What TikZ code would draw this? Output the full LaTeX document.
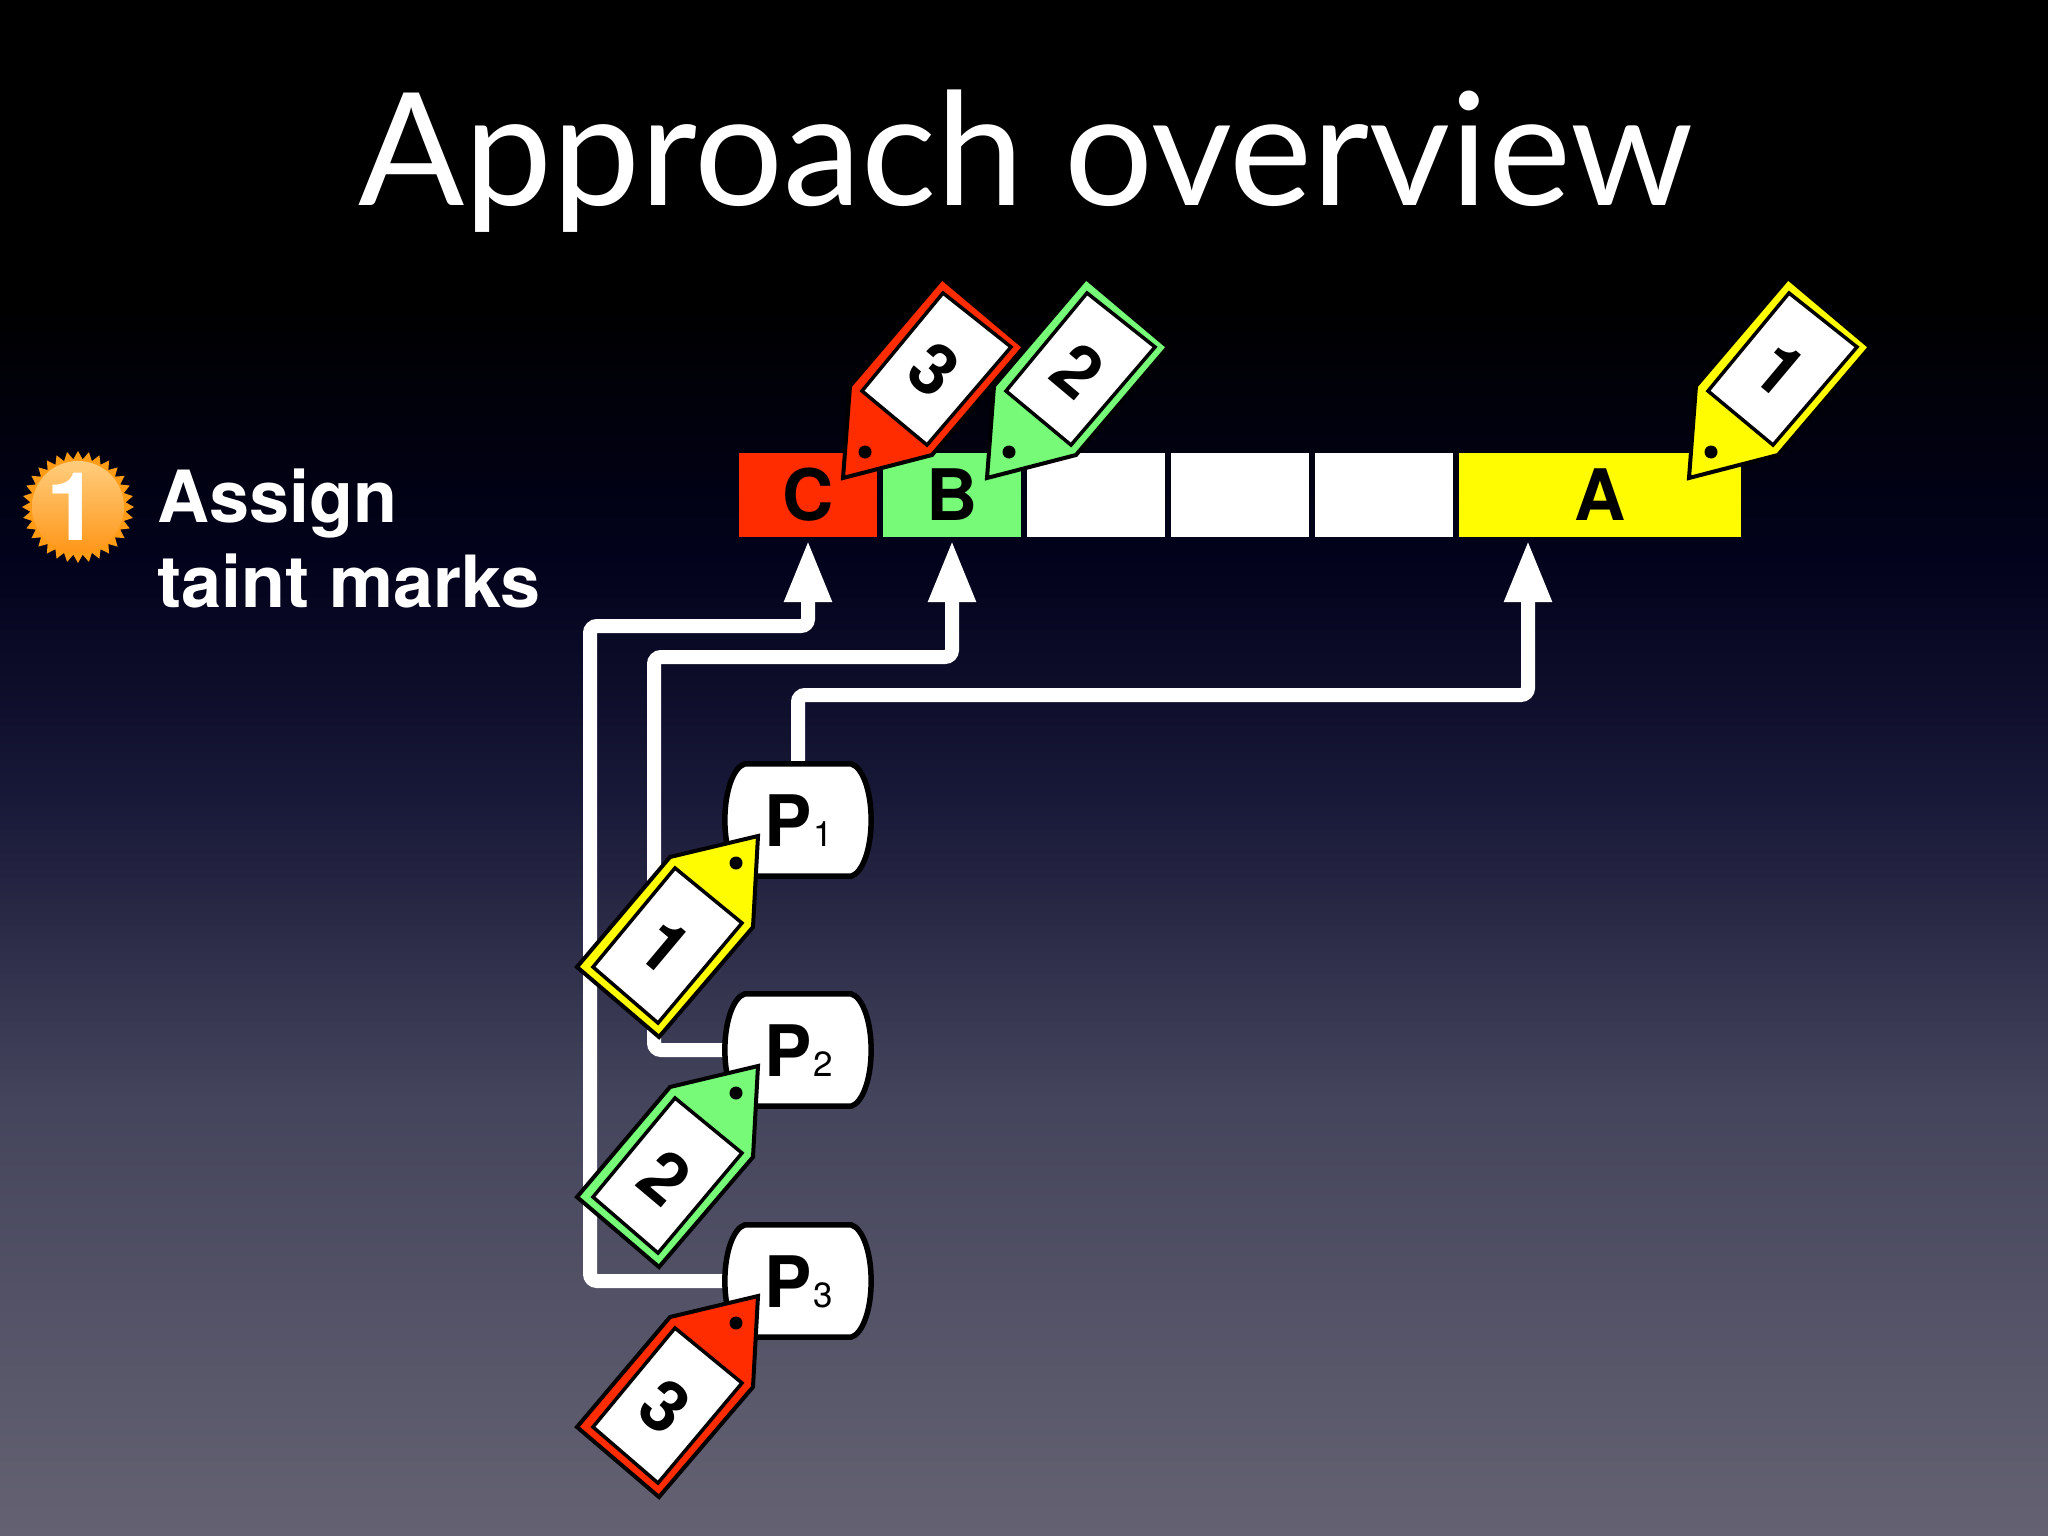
\documentclass[tikz,border=0pt]{standalone}
\usepackage{fontspec}
\setmainfont{TeX Gyre Heros}
\newfontfamily\titlefont{Lato}
\usetikzlibrary{arrows.meta,shapes.geometric,calc}
\def\px{0.05cm}
\newcommand\pxfont[1]{\pgfmathsetmacro\tmpfs{#1*1.4226}\fontsize{\tmpfs}{\tmpfs}\selectfont}
\definecolor{tred}{RGB}{255,44,0}
\definecolor{tgreen}{RGB}{118,250,120}
\definecolor{tyellow}{RGB}{255,251,0}
\definecolor{bga}{RGB}{100,98,114}
\definecolor{bgb}{RGB}{68,68,92}
\definecolor{bgc}{RGB}{24,24,56}
\definecolor{bgd}{RGB}{2,2,28}
\definecolor{bge}{RGB}{0,0,0}
\definecolor{starc}{RGB}{255,155,20}
\definecolor{starl}{RGB}{255,205,125}
\definecolor{stard}{RGB}{255,150,25}
\pgfdeclareverticalshading{slidebg}{100bp}{
 color(0bp)=(bga);
 color(25bp)=(bga);
 color(39.2bp)=(bgb);
 color(49bp)=(bgc);
 color(56.8bp)=(bgd);
 color(65.2bp)=(bge);
 color(100bp)=(bge)}
\tikzset{
 cell/.style={draw=none,minimum height=84*\px,inner sep=0pt,font=\bfseries\pxfont{71},text=black},
 wire/.style={draw=white,line width=14*\px,rounded corners=7*\px,line cap=butt},
 arrowwire/.style={wire,-{Triangle[length=62*\px,width=44*\px]}},
 procbox/.style={minimum width=146*\px,minimum height=112*\px,inner sep=0pt,text=black},
 tagouter/.style={draw=black,line width=4*\px,miter limit=10},
 taginner/.style={draw=black,line width=3.5*\px,fill=white},
 digit/.style={font=\bfseries\pxfont{71},text=black,rotate=-40,inner sep=0pt},
}
\newcommand\tagtop[5]{
 \begin{scope}[shift={(#2,#3)}]
 \draw[tagouter,fill=#4] (0,0) -- (7,-92) -- (99,-200) -- (181,-131) -- (89,-23) -- cycle;
 \draw[taginner] (100,-185) -- (168,-131) -- (84,-33) -- (19,-87) -- cycle;
 \fill[black] (22,-26) circle (6.5);
 \node[digit] (#1) at (91,-108) {#5};
 \end{scope}}
\newcommand\tagbot[5]{
 \begin{scope}[shift={(#2,#3)}]
 \draw[tagouter,fill=#4] (0,0) -- (-88,21) -- (-181,131) -- (-99,201) -- (-5,91) -- cycle;
 \draw[taginner] (-83,32) -- (-16,87) -- (-100,187) -- (-165,131) -- cycle;
 \fill[black] (-22,27) circle (6.5);
 \node[digit] (#1) at (-93,111) {#5};
 \end{scope}}
\newcommand\barrel[2]{
 \draw[black,fill=white,line width=5.5*\px]
  ($(#1.north west)+(20,0)$) -- ($(#1.north east)+(-20,0)$)
  .. controls ($(#1.north east)+(-9,3)$) and ($(#1.east)+(0,-30)$) .. (#1.east)
  .. controls ($(#1.east)+(0,30)$) and ($(#1.south east)+(-9,-3)$) .. ($(#1.south east)+(-20,0)$)
  -- ($(#1.south west)+(20,0)$)
  .. controls ($(#1.south west)+(9,-3)$) and ($(#1.west)+(0,30)$) .. (#1.west)
  .. controls ($(#1.west)+(0,-30)$) and ($(#1.north west)+(9,3)$) .. ($(#1.north west)+(20,0)$) -- cycle;
 \node[anchor=base west,inner sep=0pt,text=black,font=\bfseries\pxfont{71}] (#1t) at ($(#1.center)+(-34,26)$) {P\mdseries\pxfont{35}\kern 2.5pt #2};
}
\begin{document}
\begin{tikzpicture}[x=\px,y=-\px]
\useasboundingbox (0,0) rectangle (2048,1536);
\shade[shading=slidebg] (0,0) rectangle (2048,1536);
\node[anchor=base,inner sep=0pt,text=white,font=\titlefont\pxfont{157}] (title) at (1026,206) {Approach overview};
\node[star,star points=32,star point ratio=1.17,minimum size=112*\px,inner sep=0pt,fill=starc] (badge) at (78,507) {};
\shade[top color=starl,bottom color=stard] (badge.center) circle (46);
\node[text=white,inner sep=0pt,font=\bfseries\pxfont{95}] (badgenum) at (73,507) {1};
\node[anchor=base west,inner sep=0pt,text=white,font=\bfseries\pxfont{72}] (cap1) at (157,522) {Assign};
\node[anchor=base west,inner sep=0pt,text=white,font=\bfseries\pxfont{72}] (cap2) at (157,607) {taint marks};
\node[cell,fill=tred,minimum width=138*\px] (C) at (808,495) {C};
\node[cell,fill=tgreen,minimum width=138*\px] (B) at (952,495) {B};
\node[cell,fill=white,minimum width=138*\px] (w1) at (1096,495) {};
\node[cell,fill=white,minimum width=138*\px] (w2) at (1240,495) {};
\node[cell,fill=white,minimum width=138*\px] (w3) at (1384,495) {};
\node[cell,fill=tyellow,minimum width=282*\px] (A) at (1600,495) {A};
\node[procbox] (P1) at (798,820) {};
\node[procbox] (P2) at (798,1050) {};
\node[procbox] (P3) at (798,1281) {};
\coordinate (tipA) at (1528,540);
\coordinate (tipB) at (B.south |- tipA);
\coordinate (tipC) at (C.south |- tipA);
\coordinate (turnA) at (tipA |- 0,695);
\coordinate (turnB) at (tipB |- 0,657);
\coordinate (turnC) at (tipC |- 0,626);
\draw[arrowwire] (P1.north) |- (turnA) -- (tipA);
\draw[arrowwire] (P2.west) -| (654,657) -- (turnB) -- (tipB);
\draw[arrowwire] (P3.west) -| (590,626) -- (turnC) -- (tipC);
\barrel{P1}{1}
\barrel{P2}{2}
\barrel{P3}{3}
\tagtop{t3}{843}{478}{tred}{3}
\tagtop{t2}{987}{478}{tgreen}{2}
\tagtop{t1}{1689}{478}{tyellow}{1}
\tagbot{b1}{758}{836}{tyellow}{1}
\tagbot{b2}{758}{1066}{tgreen}{2}
\tagbot{b3}{758}{1296}{tred}{3}
\end{tikzpicture}
\end{document}
